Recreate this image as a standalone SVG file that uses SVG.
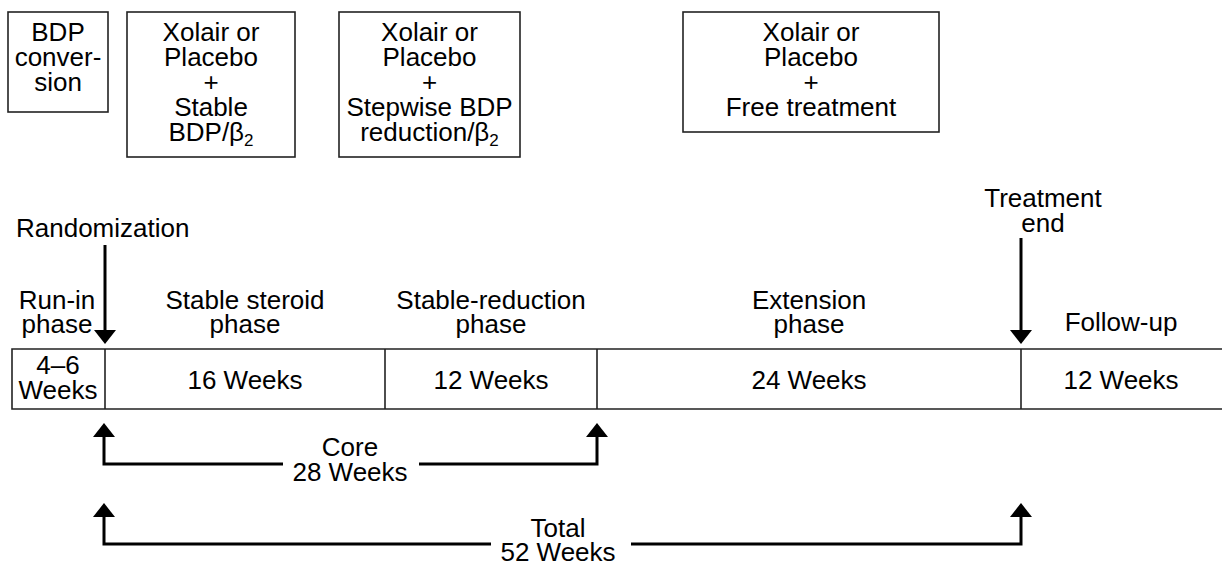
<svg xmlns="http://www.w3.org/2000/svg" width="1222" height="565" viewBox="0 0 1222 565">
<defs>
<style>
text{font-family:"Liberation Sans",Arial,sans-serif;font-size:26px;fill:#000;}
.c{text-anchor:middle;}
.box{fill:#fff;stroke:#222;stroke-width:1.6;}
.tl{stroke:#222;stroke-width:1.6;fill:none;}
.ar{stroke:#000;stroke-width:3;fill:none;}
.sub{font-size:17px;}
</style>
</defs>
<rect width="1222" height="565" fill="#fff"/>
<g id="box-bdp">
<rect class="box" x="8" y="12" width="100" height="100"/>
<text class="c" x="58" y="41">BDP</text>
<text class="c" x="58" y="66">conver-</text>
<text class="c" x="58" y="91">sion</text>
</g>
<g id="box-stable">
<rect class="box" x="127" y="12" width="168" height="145"/>
<text class="c" x="211" y="41">Xolair or</text>
<text class="c" x="211" y="66">Placebo</text>
<text class="c" x="211" y="91">+</text>
<text class="c" x="211" y="116">Stable</text>
<text class="c" x="211" y="141">BDP/β<tspan class="sub" dy="5">2</tspan></text>
</g>
<g id="box-stepwise">
<rect class="box" x="339" y="12" width="181" height="145"/>
<text class="c" x="429.5" y="41">Xolair or</text>
<text class="c" x="429.5" y="66">Placebo</text>
<text class="c" x="429.5" y="91">+</text>
<text class="c" x="429.5" y="116">Stepwise BDP</text>
<text class="c" x="429.5" y="141">reduction/β<tspan class="sub" dy="5">2</tspan></text>
</g>
<g id="box-free">
<rect class="box" x="683" y="12" width="256" height="120"/>
<text class="c" x="811" y="41">Xolair or</text>
<text class="c" x="811" y="66">Placebo</text>
<text class="c" x="811" y="91">+</text>
<text class="c" x="811" y="116">Free treatment</text>
</g>
<g id="timeline">
<path class="tl" d="M1222,349 H12 V409 H1222 M105,349 V409 M385,349 V409 M597,349 V409 M1021,349 V409"/>
<text class="c" x="58" y="374">4–6</text>
<text class="c" x="58" y="399">Weeks</text>
<text class="c" x="245" y="389">16 Weeks</text>
<text class="c" x="491" y="389">12 Weeks</text>
<text class="c" x="809" y="389">24 Weeks</text>
<text class="c" x="1121" y="389">12 Weeks</text>
</g>
<g id="phase-labels">
<text x="16" y="237">Randomization</text>
<text class="c" x="57" y="309">Run-in</text>
<text class="c" x="57" y="333">phase</text>
<text class="c" x="245" y="309">Stable steroid</text>
<text class="c" x="245" y="333">phase</text>
<text class="c" x="491" y="309">Stable-reduction</text>
<text class="c" x="491" y="333">phase</text>
<text class="c" x="809" y="309">Extension</text>
<text class="c" x="809" y="333">phase</text>
<text class="c" x="1121" y="331">Follow-up</text>
<text class="c" x="1043" y="207">Treatment</text>
<text class="c" x="1043" y="232">end</text>
<text class="c" x="350" y="456">Core</text>
<text class="c" x="350" y="481">28 Weeks</text>
<text class="c" x="558" y="537">Total</text>
<text class="c" x="558" y="561">52 Weeks</text>
</g>
<g id="connectors">
<path class="ar" d="M105,245 V331"/>
<polygon points="94,330 116,330 105,344"/>
<path class="ar" d="M1021,238 V331"/>
<polygon points="1010,330 1032,330 1021,344"/>
<path class="ar" d="M104,436 V464 H283 M419,464 H597 V436"/>
<polygon points="93,437 115,437 104,423"/>
<polygon points="586,437 608,437 597,423"/>
<path class="ar" d="M104,516 V544 H491 M631,544 H1021 V516"/>
<polygon points="93,517 115,517 104,503"/>
<polygon points="1010,517 1032,517 1021,503"/>
</g>
</svg>
